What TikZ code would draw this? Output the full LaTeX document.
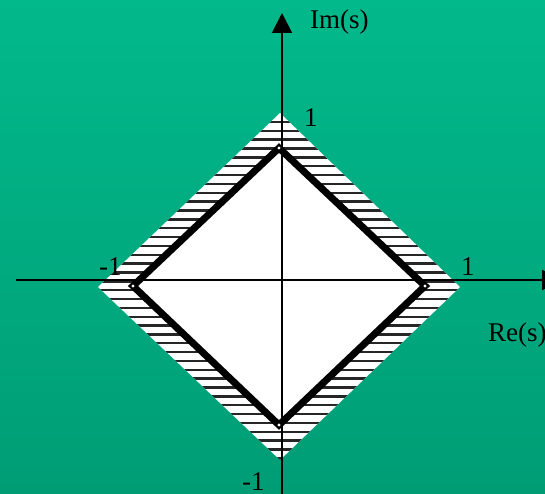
\documentclass[tikz,border=0pt]{standalone}
\usepackage{fontspec}
\setmainfont{Liberation Serif}
\usetikzlibrary{arrows.meta}
\definecolor{bgtop}{RGB}{2,185,139}
\definecolor{bgbot}{RGB}{0,157,117}
\begin{document}
\begin{tikzpicture}[x=1pt,y=-1pt,
  axis/.style={line width=2pt, -{Triangle[length=20pt,width=20pt]}},
  lbl/.style={font=\fontsize{27}{27}\selectfont, inner sep=0pt, anchor=base west},
  hatch/.style={line width=2.4pt, black!85},
  rim/.style={line width=7pt, line join=miter}]
\useasboundingbox (0,0) rectangle (545,494);
\clip (0,0) rectangle (545,494);
\shade[top color=bgtop, bottom color=bgbot] (0,0) rectangle (545,494);
% outer hatched diamond
\coordinate (oT) at (280,113);
\coordinate (oR) at (460,287);
\coordinate (oB) at (280,460);
\coordinate (oL) at (98,287);
\fill[white] (oT)--(oR)--(oB)--(oL)--cycle;
\begin{scope}
  \clip (oT)--(oR)--(oB)--(oL)--cycle;
  \foreach \k in {0,...,39}
    \draw[hatch] (90,{122+8.85*\k}) -- (470,{122+8.85*\k});
\end{scope}
% inner diamond
\coordinate (iT) at (279,148);
\coordinate (iR) at (425,286);
\coordinate (iB) at (279,425);
\coordinate (iL) at (133,286);
\fill[white] (iT)--(iR)--(iB)--(iL)--cycle;
% axes
\coordinate (xa) at (16,280);
\coordinate (xb) at (562,280);
\coordinate (ya) at (282,500);
\coordinate (yb) at (282,13);
\draw[axis] (xa)--(xb);
\draw[axis] (ya)--(yb);
% thick rim
\draw[rim] (iT)--(iR)--(iB)--(iL)--cycle;
\foreach \p in {iT,iR,iB,iL} \fill[white] (\p) circle (1.6);
% labels
\node[lbl] (im) at (310,29) {Im(s)};
\node[lbl] (re) at (488,341) {Re(s)};
\node[lbl] (t1) at (304,127) {1};
\node[lbl] (r1) at (461,275) {1};
\node[lbl] (l1) at (99,275) {-1};
\node[lbl] (b1) at (242,490) {-1};
\end{tikzpicture}
\end{document}
